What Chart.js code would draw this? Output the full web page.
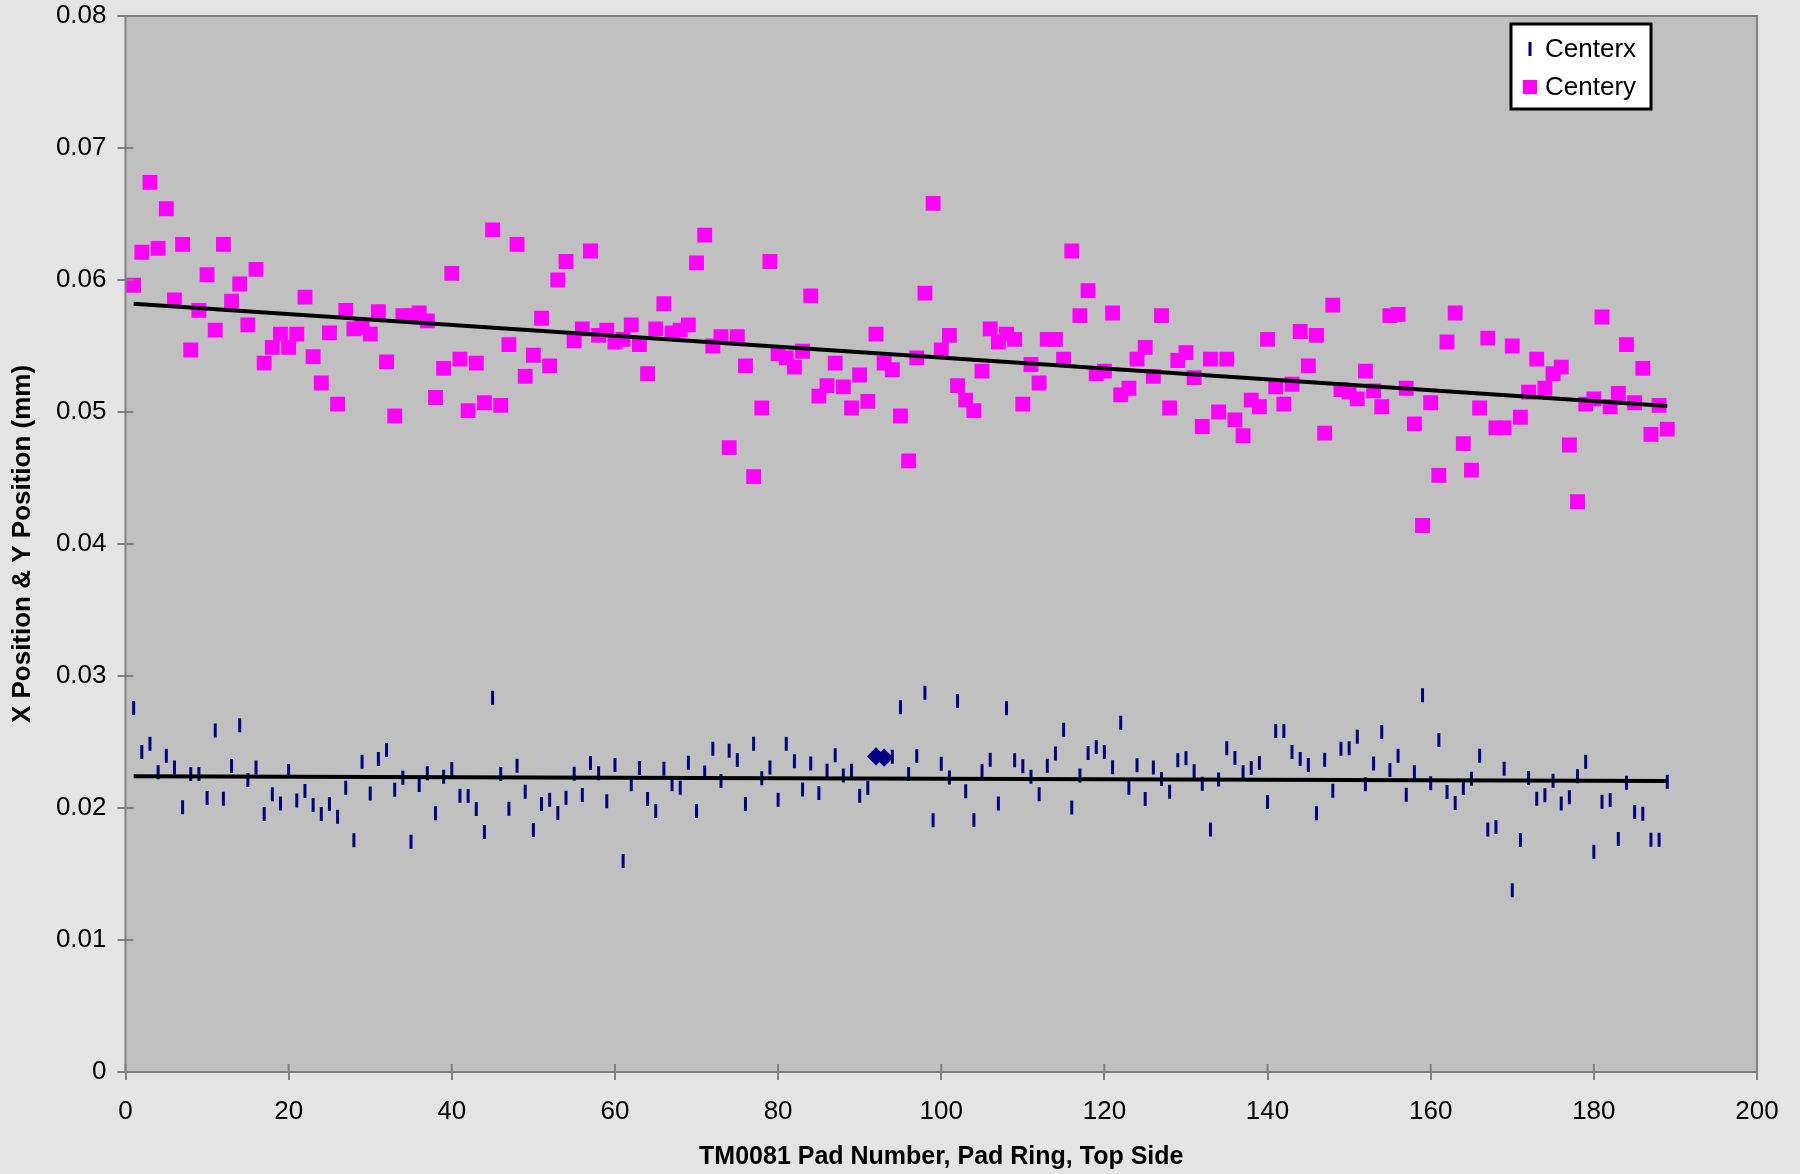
<!DOCTYPE html>
<html>
<head>
<meta charset="utf-8">
<script src="https://cdn.jsdelivr.net/npm/chart.js@4.4.1/dist/chart.umd.min.js"></script>
<style>
  html, body { margin: 0; padding: 0; background: #e4e4e4; }
  canvas { display: block; }
</style>
</head>
<body>
<canvas id="chart" width="1800" height="1174"></canvas>
<script>
// pad numbers along the ring (x axis)
const padNumbers = [
  1, 2, 3, 4, 5, 6, 7, 8, 9, 10, 11, 12, 13, 14, 15, 16, 17, 18, 19, 20,
  21, 22, 23, 24, 25, 26, 27, 28, 29, 30, 31, 32, 33, 34, 35, 36, 37, 38, 39, 40,
  41, 42, 43, 44, 45, 46, 47, 48, 49, 50, 51, 52, 53, 54, 55, 56, 57, 58, 59, 60,
  61, 62, 63, 64, 65, 66, 67, 68, 69, 70, 71, 72, 73, 74, 75, 76, 77, 78, 79, 80,
  81, 82, 83, 84, 85, 86, 87, 88, 89, 90, 91, 92, 93, 94, 95, 96, 97, 98, 99, 100,
  101, 102, 103, 104, 105, 106, 107, 108, 109, 110, 111, 112, 113, 114, 115, 116, 117, 118, 119, 120,
  121, 122, 123, 124, 125, 126, 127, 128, 129, 130, 131, 132, 133, 134, 135, 136, 137, 138, 139, 140,
  141, 142, 143, 144, 145, 146, 147, 148, 149, 150, 151, 152, 153, 154, 155, 156, 157, 158, 159, 160,
  161, 162, 163, 164, 165, 166, 167, 168, 169, 170, 171, 172, 173, 174, 175, 176, 177, 178, 179, 180,
  181, 182, 183, 184, 185, 186, 187, 188, 189
];

const centerx = [
  0.02758, 0.02424, 0.02487, 0.02270, 0.02396, 0.02306, 0.02005, 0.02258, 0.02258, 0.02076,
  0.02588, 0.02071, 0.02318, 0.02626, 0.02212, 0.02306, 0.01955, 0.02104, 0.02035, 0.02280,
  0.02056, 0.02129, 0.02023, 0.01955, 0.02030, 0.01934, 0.02154, 0.01755, 0.02351, 0.02109,
  0.02371, 0.02439, 0.02139, 0.02230, 0.01745, 0.02174, 0.02263, 0.01960, 0.02237, 0.02295,
  0.02093, 0.02091, 0.01992, 0.01818, 0.02836, 0.02258, 0.01995, 0.02321, 0.02124, 0.01833,
  0.02030, 0.02063, 0.01962, 0.02078, 0.02260, 0.02098, 0.02341, 0.02263, 0.02051, 0.02326,
  0.01598, 0.02179, 0.02303, 0.02068, 0.01977, 0.02298, 0.02179, 0.02154, 0.02343, 0.01977,
  0.02268, 0.02449, 0.02205, 0.02434, 0.02364, 0.02030, 0.02487, 0.02225, 0.02306, 0.02063,
  0.02487, 0.02354, 0.02141, 0.02338, 0.02114, 0.02283, 0.02399, 0.02247, 0.02283, 0.02093,
  0.02152, 0.02391, 0.02381, 0.02389, 0.02763, 0.02258, 0.02394, 0.02874, 0.01907, 0.02336,
  0.02232, 0.02811, 0.02126, 0.01909, 0.02280, 0.02366, 0.02035, 0.02755, 0.02361, 0.02316,
  0.02237, 0.02104, 0.02321, 0.02412, 0.02593, 0.02003, 0.02247, 0.02417, 0.02462, 0.02424,
  0.02308, 0.02646, 0.02154, 0.02323, 0.02068, 0.02306, 0.02220, 0.02124, 0.02361, 0.02376,
  0.02278, 0.02184, 0.01838, 0.02215, 0.02452, 0.02379, 0.02270, 0.02303, 0.02341, 0.02045,
  0.02583, 0.02583, 0.02424, 0.02371, 0.02326, 0.01960, 0.02366, 0.02131, 0.02449, 0.02452,
  0.02540, 0.02179, 0.02338, 0.02576, 0.02288, 0.02396, 0.02101, 0.02270, 0.02854, 0.02187,
  0.02515, 0.02121, 0.02038, 0.02152, 0.02222, 0.02396, 0.01838, 0.01856, 0.02298, 0.01376,
  0.01758, 0.02227, 0.02071, 0.02096, 0.02207, 0.02035, 0.02081, 0.02240, 0.02351, 0.01669,
  0.02048, 0.02061, 0.01765, 0.02192, 0.01970, 0.01957, 0.01760, 0.01760, 0.02199
];

const centery = [
  0.0596, 0.0621, 0.0674, 0.0624, 0.0654, 0.0585, 0.0627, 0.0547, 0.0577, 0.0604,
  0.0562, 0.0627, 0.0584, 0.0597, 0.0566, 0.0608, 0.0537, 0.0549, 0.0559, 0.0549,
  0.0559, 0.0587, 0.0542, 0.0522, 0.0560, 0.0506, 0.0577, 0.0563, 0.0564, 0.0559,
  0.0576, 0.0538, 0.0497, 0.0573, 0.0573, 0.0575, 0.0569, 0.0511, 0.0533, 0.0605,
  0.0540, 0.0501, 0.0537, 0.0507, 0.0638, 0.0505, 0.0551, 0.0627, 0.0527, 0.0543,
  0.0571, 0.0535, 0.0600, 0.0614, 0.0554, 0.0563, 0.0622, 0.0558, 0.0562, 0.0553,
  0.0555, 0.0566, 0.0551, 0.0529, 0.0563, 0.0582, 0.0560, 0.0562, 0.0566, 0.0613,
  0.0634, 0.0550, 0.0557, 0.0473, 0.0557, 0.0535, 0.0451, 0.0503, 0.0614, 0.0544,
  0.0541, 0.0534, 0.0546, 0.0588, 0.0512, 0.0520, 0.0537, 0.0519, 0.0503, 0.0528,
  0.0508, 0.0559, 0.0537, 0.0532, 0.0497, 0.0463, 0.0541, 0.0590, 0.0658, 0.0547,
  0.0558, 0.0520, 0.0509, 0.0501, 0.0531, 0.0563, 0.0553, 0.0559, 0.0555, 0.0506,
  0.0536, 0.0522, 0.0555, 0.0555, 0.0540, 0.0622, 0.0573, 0.0592, 0.0529, 0.0531,
  0.0575, 0.0513, 0.0518, 0.0540, 0.0549, 0.0527, 0.0573, 0.0503, 0.0539, 0.0545,
  0.0526, 0.0489, 0.0540, 0.0500, 0.0540, 0.0494, 0.0482, 0.0509, 0.0504, 0.0555,
  0.0519, 0.0506, 0.0521, 0.0561, 0.0535, 0.0558, 0.0484, 0.0581, 0.0517, 0.0515,
  0.0510, 0.0531, 0.0516, 0.0504, 0.0573, 0.0574, 0.0518, 0.0491, 0.0414, 0.0507,
  0.0452, 0.0553, 0.0575, 0.0476, 0.0456, 0.0503, 0.0556, 0.0488, 0.0488, 0.0550,
  0.0496, 0.0515, 0.0540, 0.0518, 0.0529, 0.0534, 0.0475, 0.0432, 0.0506, 0.0510,
  0.0572, 0.0504, 0.0514, 0.0551, 0.0507, 0.0533, 0.0483, 0.0505, 0.0487
];

// pads whose Centerx marker is drawn as a diamond
const diamondPads = [92, 93];

// linear trend lines, read at first and last pad
const trendPads = [1, 189];
const trendX = [0.0224, 0.02205];
const trendY = [0.0582, 0.05045];

const xTicks = [0, 20, 40, 60, 80, 100, 120, 140, 160, 180, 200];
const yTicks = [0, 0.01, 0.02, 0.03, 0.04, 0.05, 0.06, 0.07, 0.08];

const FONT = '"Liberation Sans", Arial, sans-serif';
Chart.defaults.font.family = FONT;
Chart.defaults.color = '#000';

const toPoints = (xs, ys) => xs.map((x, i) => ({ x: x, y: ys[i] }));

// plot area fill, border and inside tick marks
const plotFrame = {
  id: 'plotFrame',
  beforeDatasetsDraw(chart) {
    const { ctx, chartArea: a } = chart;
    ctx.save();
    ctx.fillStyle = '#c0c0c0';
    ctx.fillRect(a.left, a.top, a.right - a.left, a.bottom - a.top);
    ctx.restore();
  },
  afterDatasetsDraw(chart) {
    const { ctx, chartArea: a, scales } = chart;
    ctx.save();
    ctx.strokeStyle = '#808080';
    ctx.lineWidth = 2;
    ctx.strokeRect(a.left, a.top, a.right - a.left, a.bottom - a.top);
    ctx.beginPath();
    xTicks.forEach(v => {
      const px = scales.x.getPixelForValue(v);
      ctx.moveTo(px, a.bottom);
      ctx.lineTo(px, a.bottom - 8);
    });
    yTicks.forEach(v => {
      const py = scales.y.getPixelForValue(v);
      ctx.moveTo(a.left, py);
      ctx.lineTo(a.left + 8, py);
    });
    ctx.stroke();
    ctx.restore();
  }
};

// boxed legend inside the top right of the plot
const boxLegend = {
  id: 'boxLegend',
  afterDraw(chart) {
    const { ctx, chartArea: a } = chart;
    const left = a.right - 246, top = a.top + 8, w = 140, h = 85;
    ctx.save();
    ctx.fillStyle = '#fff';
    ctx.fillRect(left, top, w, h);
    ctx.lineWidth = 3;
    ctx.strokeStyle = '#000';
    ctx.strokeRect(left, top, w, h);

    const mx = left + 19;
    const y1 = top + 25, y2 = top + 63;
    ctx.strokeStyle = '#000080';
    ctx.lineWidth = 3;
    ctx.beginPath();
    ctx.moveTo(mx, y1 - 7);
    ctx.lineTo(mx, y1 + 7);
    ctx.stroke();
    ctx.fillStyle = '#ff00ff';
    ctx.fillRect(mx - 7, y2 - 7, 14, 14);

    ctx.fillStyle = '#000';
    ctx.font = '26px ' + FONT;
    ctx.textBaseline = 'middle';
    ctx.fillText(chart.data.datasets[0].label, left + 34, y1 + 1);
    ctx.fillText(chart.data.datasets[1].label, left + 34, y2 + 1);
    ctx.restore();
  }
};

const ctx = document.getElementById('chart').getContext('2d');

new Chart(ctx, {
  type: 'scatter',
  data: {
    datasets: [
      {
        label: 'Centerx',
        data: toPoints(padNumbers, centerx),
        pointStyle: c => (c.raw && diamondPads.includes(c.raw.x)) ? 'rectRot' : 'line',
        pointRadius: 7,
        pointRotation: 90,
        pointBorderWidth: 3,
        pointBorderColor: '#000080',
        pointBackgroundColor: '#000080',
        order: 2
      },
      {
        label: 'Centery',
        data: toPoints(padNumbers, centery),
        pointStyle: 'rect',
        pointRadius: 10.5,
        pointBorderWidth: 0,
        pointBackgroundColor: '#ff00ff',
        pointBorderColor: '#ff00ff',
        order: 2
      },
      {
        label: 'Linear (Centerx)',
        type: 'line',
        data: toPoints(trendPads, trendX),
        borderColor: '#000',
        borderWidth: 4,
        pointRadius: 0,
        fill: false,
        order: 1
      },
      {
        label: 'Linear (Centery)',
        type: 'line',
        data: toPoints(trendPads, trendY),
        borderColor: '#000',
        borderWidth: 4,
        pointRadius: 0,
        fill: false,
        order: 1
      }
    ]
  },
  options: {
    responsive: false,
    animation: false,
    events: [],
    layout: { padding: { top: 16, right: 43, left: 0, bottom: 0 } },
    plugins: {
      legend: { display: false },
      tooltip: { enabled: false }
    },
    scales: {
      x: {
        type: 'linear',
        min: 0,
        max: 200,
        afterBuildTicks: s => { s.ticks = xTicks.map(v => ({ value: v })); },
        afterFit: s => { s.height = 102; s.paddingRight = 0; s.paddingLeft = 0; },
        ticks: { font: { size: 26 }, padding: 16, maxRotation: 0 },
        grid: { drawOnChartArea: false, color: '#808080', lineWidth: 2, tickLength: 8 },
        border: { color: '#808080', width: 2 },
        title: {
          display: true,
          text: 'TM0081 Pad Number, Pad Ring, Top Side',
          font: { size: 25, weight: 'bold' },
          padding: { top: 0, bottom: 2 }
        }
      },
      y: {
        min: 0,
        max: 0.08,
        afterBuildTicks: s => { s.ticks = yTicks.map(v => ({ value: v })); },
        afterFit: s => { s.width = 125.5; s.paddingTop = 0; s.paddingBottom = 0; },
        ticks: {
          font: { size: 26 },
          padding: 11,
          callback: v => String(+v.toFixed(2))
        },
        grid: { drawOnChartArea: false, color: '#808080', lineWidth: 2, tickLength: 8 },
        border: { color: '#808080', width: 2 },
        title: {
          display: true,
          text: 'X Position & Y Position (mm)',
          font: { size: 26, weight: 'bold' },
          padding: { top: 7, bottom: 0 }
        }
      }
    }
  },
  plugins: [plotFrame, boxLegend]
});
</script>
</body>
</html>
